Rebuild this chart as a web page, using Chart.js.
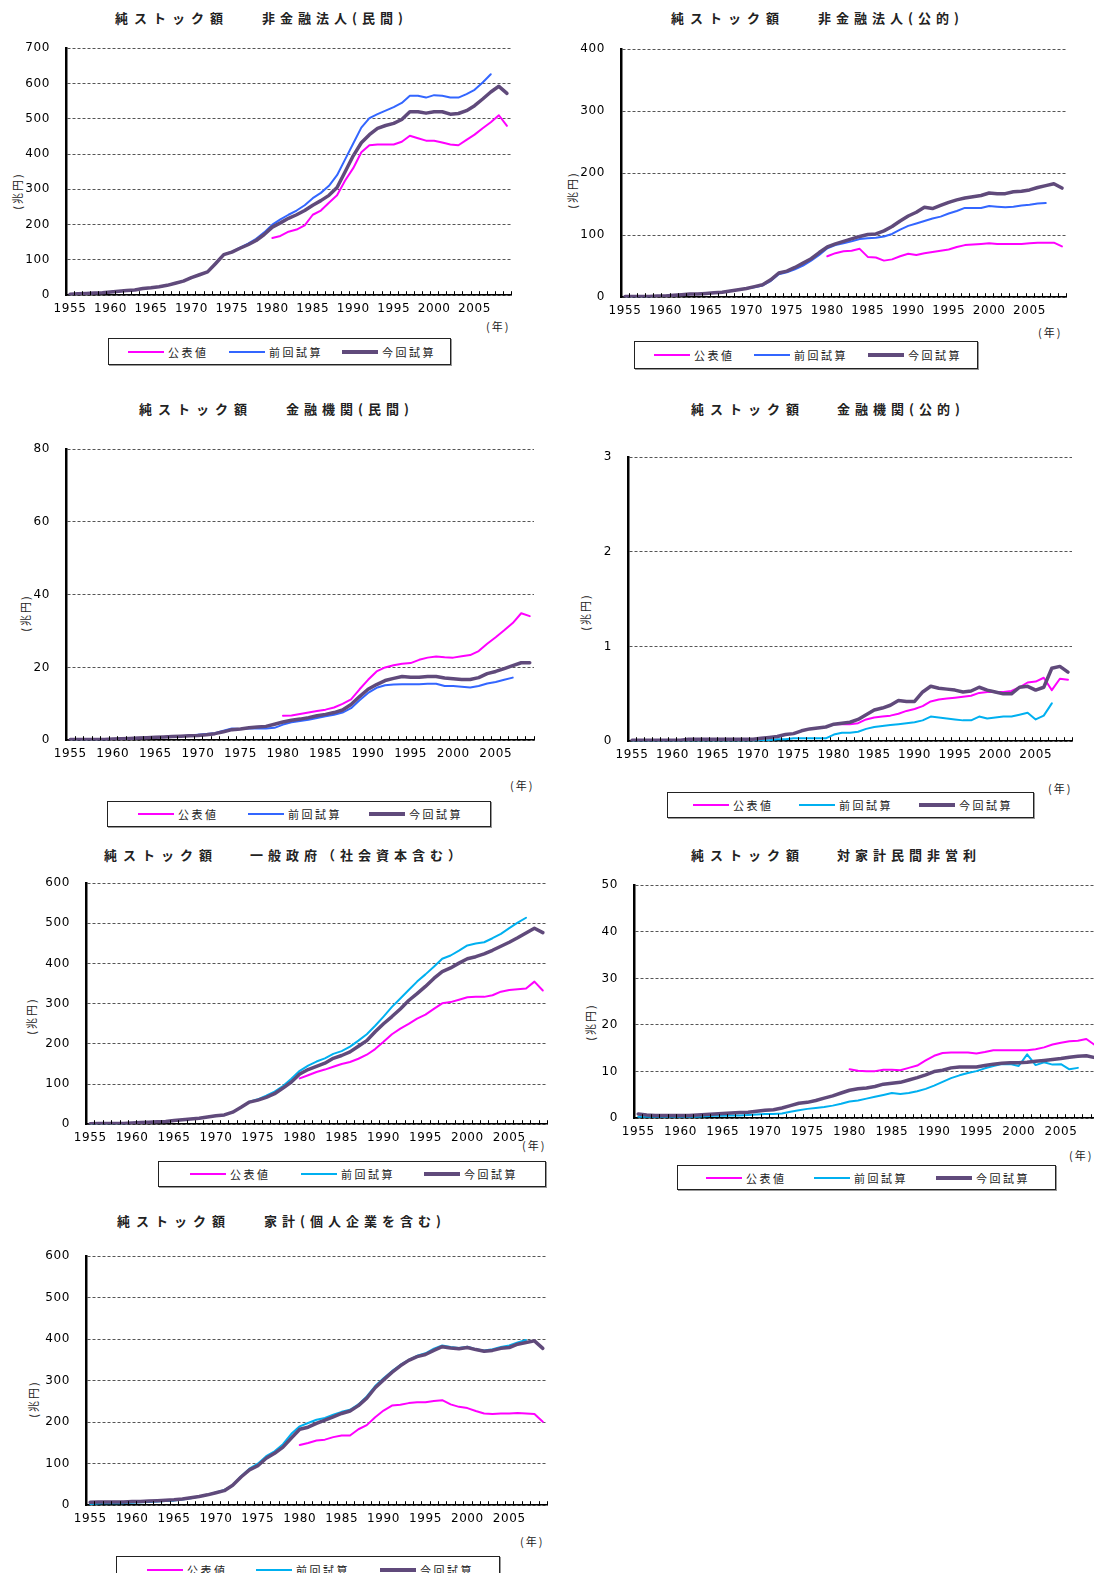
<!DOCTYPE html>
<html>
<head>
<meta charset="utf-8">
<script src="https://cdn.jsdelivr.net/npm/chart.js@4.4.1/dist/chart.umd.min.js"></script>
<style>
  body { margin: 0; width: 1094px; height: 1573px; position: relative; overflow: hidden; background: #fff;
         font-family: "Noto Sans CJK JP", sans-serif; color: #000; }
  canvas { position: absolute; }
  .title { position: absolute; font-size: 13px; font-weight: bold; letter-spacing: 5px; white-space: nowrap;
           color: #222; line-height: 16px; }
  .title.head { letter-spacing: 6px; }
  .unit { position: absolute; font-size: 11px; letter-spacing: 2px; white-space: nowrap; line-height: 12px;
          transform: translate(-50%, -50%) rotate(-90deg); color: #222; }
  .year { position: absolute; font-size: 11px; letter-spacing: 2px; white-space: nowrap; line-height: 12px; color: #222; }
  .legend { position: absolute; border: 1px solid #222; box-shadow: 1px 1px 0 #999; background: #fff; }
  .legend .item { position: absolute; top: 0; height: 100%; display: flex; align-items: center;
                  font-size: 11px; letter-spacing: 2.5px; white-space: nowrap; color: #222; }
  .legend .item i { display: inline-block; width: 36px; margin-right: 4px; }
</style>
</head>
<body>
<script>
// 年次カテゴリ
const years = [1955, 1956, 1957, 1958, 1959, 1960, 1961, 1962, 1963, 1964,
               1965, 1966, 1967, 1968, 1969, 1970, 1971, 1972, 1973, 1974,
               1975, 1976, 1977, 1978, 1979, 1980, 1981, 1982, 1983, 1984,
               1985, 1986, 1987, 1988, 1989, 1990, 1991, 1992, 1993, 1994,
               1995, 1996, 1997, 1998, 1999, 2000, 2001, 2002, 2003, 2004,
               2005, 2006, 2007, 2008, 2009];
const seriesNames = ['公表値', '前回試算', '今回試算'];
const titleHead = '純ストック額';

// 非金融法人(民間)
const nfPrivCurr = [3, 4, 5, 6, 7, 9, 11, 13, 15, 19, 21, 24, 28, 34, 40, 50, 58, 66, 90, 115,
  122, 133, 143, 155, 172, 193, 205, 218, 228, 240, 255, 268, 283, 305, 350, 395, 432, 455, 473, 481,
  487, 498, 520, 520, 516, 520, 520, 513, 515, 523, 537, 556, 576, 592, 572];
const nfPrivPrev = [3, 4, 5, 6, 7, 9, 11, 13, 15, 19, 21, 24, 28, 34, 40, 50, 58, 66, 90, 115,
  123, 135, 146, 160, 178, 200, 215, 228, 240, 255, 275, 290, 310, 340, 385, 430, 475, 502, 513, 523,
  533, 545, 565, 565, 560, 567, 565, 560, 560, 570, 582, 603, 626];
const nfPrivPub = [162, 168, 180, 186, 198, 228, 240, 262, 283, 325, 360, 405, 425, 427, 427, 427, 435, 452, 445, 438,
  438, 433, 427, 425, 440, 455, 473, 490, 510, 480];

// 非金融法人(公的)
const nfPubCurr = [1, 1, 1, 1, 2, 2, 3, 4, 5, 5, 6, 7, 8, 10, 12, 14, 17, 20, 28, 39,
  42, 48, 55, 62, 72, 81, 86, 90, 94, 98, 101, 102, 107, 114, 123, 131, 137, 145, 143, 148,
  153, 157, 160, 162, 164, 168, 167, 167, 170, 171, 173, 177, 180, 183, 176];
const nfPubPrev = [1, 1, 1, 1, 2, 2, 3, 4, 5, 5, 6, 7, 8, 10, 12, 14, 16, 19, 26, 37,
  40, 45, 51, 59, 68, 79, 84, 87, 90, 94, 95, 96, 98, 102, 109, 115, 119, 123, 127, 130,
  135, 139, 144, 144, 144, 147, 146, 145, 146, 148, 149, 151, 152];
const nfPubPub = [66, 71, 74, 75, 78, 65, 64, 59, 61, 66, 70, 68, 71, 73, 75, 77, 81, 84, 85, 86,
  87, 86, 86, 86, 86, 87, 88, 88, 88, 82];

// 金融機関(民間)
const finPrivCurr = [0.2, 0.2, 0.2, 0.2, 0.2, 0.3, 0.4, 0.5, 0.6, 0.7, 0.8, 0.9, 1.0, 1.1, 1.2, 1.3, 1.5, 1.8, 2.3, 2.9,
  3.1, 3.4, 3.6, 3.8, 4.4, 5.0, 5.5, 5.8, 6.2, 6.7, 7.1, 7.6, 8.3, 9.8, 12.0, 14.0, 15.3, 16.4, 17.0, 17.5,
  17.3, 17.3, 17.5, 17.5, 17.1, 16.9, 16.7, 16.7, 17.2, 18.3, 18.9, 19.7, 20.5, 21.3, 21.3];
const finPrivPrev = [0.2, 0.2, 0.2, 0.2, 0.2, 0.3, 0.4, 0.5, 0.6, 0.7, 0.8, 0.9, 1.0, 1.1, 1.3, 1.5, 1.7, 1.9, 2.6, 3.2,
  3.1, 3.2, 3.2, 3.2, 3.4, 4.3, 4.9, 5.3, 5.6, 6.1, 6.6, 7.0, 7.6, 8.8, 11.0, 13.0, 14.4, 15.1, 15.3, 15.4,
  15.4, 15.4, 15.5, 15.5, 14.9, 14.9, 14.7, 14.5, 14.9, 15.6, 16.0, 16.6, 17.2];
const finPrivPub = [6.7, 6.8, 7.2, 7.6, 8.0, 8.4, 9.0, 10.0, 11.2, 14.0, 16.6, 18.9, 20.0, 20.6, 21.0, 21.2, 22.1, 22.7, 23.0, 22.8,
  22.7, 23.1, 23.4, 24.5, 26.5, 28.3, 30.2, 32.2, 34.9, 34.1];

// 金融機関(公的)
const finPubCurr = [0.01, 0.01, 0.01, 0.01, 0.01, 0.01, 0.01, 0.02, 0.02, 0.02, 0.02, 0.02, 0.02, 0.02, 0.02, 0.02, 0.03, 0.04, 0.05, 0.07,
  0.08, 0.11, 0.13, 0.14, 0.15, 0.18, 0.19, 0.20, 0.23, 0.28, 0.33, 0.35, 0.38, 0.43, 0.42, 0.42, 0.52, 0.58, 0.56, 0.55,
  0.54, 0.52, 0.53, 0.57, 0.54, 0.52, 0.50, 0.50, 0.57, 0.58, 0.54, 0.57, 0.77, 0.79, 0.73];
const finPubPrev = [0, 0, 0, 0, 0, 0, 0, 0, 0, 0, 0, 0, 0, 0, 0, 0, 0.01, 0.01, 0.02, 0.02,
  0.03, 0.03, 0.03, 0.03, 0.03, 0.07, 0.09, 0.09, 0.10, 0.13, 0.15, 0.16, 0.17, 0.18, 0.19, 0.20, 0.22, 0.26, 0.25, 0.24,
  0.23, 0.22, 0.22, 0.26, 0.24, 0.25, 0.26, 0.26, 0.28, 0.30, 0.23, 0.27, 0.40];
const finPubPub = [0.18, 0.18, 0.18, 0.19, 0.23, 0.25, 0.26, 0.27, 0.29, 0.32, 0.34, 0.37, 0.42, 0.44, 0.45, 0.46, 0.47, 0.48, 0.51, 0.52,
  0.52, 0.52, 0.53, 0.57, 0.62, 0.63, 0.67, 0.54, 0.66, 0.65];

// 一般政府(社会資本含む)
const govCurr = [1, 2, 2, 2, 2, 3, 4, 5, 6, 7, 9, 11, 13, 15, 18, 21, 23, 30, 42, 55,
  60, 67, 76, 90, 105, 125, 136, 144, 152, 164, 171, 180, 194, 208, 230, 250, 268, 287, 308, 325,
  343, 363, 380, 389, 401, 412, 417, 424, 433, 443, 453, 464, 476, 488, 477];
const govPrev = [1, 2, 2, 2, 2, 3, 4, 5, 6, 7, 9, 11, 13, 15, 18, 21, 23, 30, 42, 56,
  62, 71, 81, 95, 113, 133, 146, 156, 164, 175, 182, 193, 208, 224, 245, 268, 292, 313, 334, 355,
  373, 392, 412, 420, 432, 445, 450, 453, 463, 474, 488, 502, 514];
const govPub = [114, 122, 130, 136, 143, 150, 155, 163, 173, 187, 205, 224, 238, 250, 263, 273, 287, 301, 304, 310,
  316, 317, 317, 321, 330, 334, 336, 338, 355, 333];

// 対家計民間非営利
const npCurr = [0.9, 0.7, 0.6, 0.6, 0.6, 0.6, 0.6, 0.7, 0.8, 0.9, 1.0, 1.1, 1.2, 1.3, 1.5, 1.7, 1.8, 2.2, 2.7, 3.2,
  3.4, 3.8, 4.3, 4.8, 5.4, 6.0, 6.3, 6.5, 6.8, 7.3, 7.5, 7.7, 8.2, 8.7, 9.3, 10.0, 10.3, 10.8, 11.0, 11.0,
  11.0, 11.3, 11.6, 11.8, 11.9, 11.9, 12.0, 12.2, 12.4, 12.6, 12.8, 13.1, 13.3, 13.4, 13.0];
const npPrev = [0.3, 0.3, 0.3, 0.3, 0.3, 0.3, 0.3, 0.3, 0.4, 0.5, 0.5, 0.6, 0.6, 0.7, 0.8, 0.9, 0.9, 1.0, 1.4, 1.7,
  2.0, 2.2, 2.4, 2.7, 3.1, 3.6, 3.8, 4.2, 4.6, 5.0, 5.4, 5.2, 5.4, 5.8, 6.3, 7.0, 7.8, 8.6, 9.2, 9.7,
  10.1, 10.7, 11.2, 11.6, 11.6, 11.2, 13.7, 11.4, 12.0, 11.5, 11.6, 10.5, 10.8];
const npPub = [10.5, 10.2, 10.1, 10.1, 10.4, 10.4, 10.3, 10.8, 11.3, 12.4, 13.4, 14.0, 14.1, 14.1, 14.1, 13.9, 14.2, 14.6, 14.6, 14.6,
  14.6, 14.6, 14.8, 15.2, 15.8, 16.2, 16.5, 16.6, 17.0, 15.7];

// 家計(個人企業を含む)
const hhCurr = [7, 8, 8, 8, 8, 9, 9, 10, 11, 12, 13, 15, 18, 21, 25, 30, 35, 48, 68, 85,
  95, 113, 125, 140, 162, 183, 188, 197, 205, 213, 221, 227, 240, 258, 283, 302, 320, 336, 349, 358,
  363, 373, 382, 379, 377, 380, 375, 371, 373, 378, 380, 388, 392, 396, 378];
const hhPrev = [3, 4, 5, 5, 5, 6, 7, 8, 9, 10, 11, 14, 17, 21, 25, 31, 37, 48, 70, 88,
  100, 118, 130, 147, 172, 190, 198, 206, 210, 218, 225, 230, 243, 262, 287, 306, 323, 338, 350, 360,
  366, 377, 385, 381, 379, 382, 376, 373, 376, 381, 385, 392, 398];
const hhPub = [145, 150, 156, 158, 164, 168, 168, 183, 193, 212, 228, 240, 242, 246, 248, 248, 251, 253, 243, 237,
  234, 227, 221, 220, 221, 221, 222, 221, 220, 201];

const PUB_START = 1980;
const COL_PUB = '#FF00FF';
const COL_CURR = '#604A7B';

// 公表値は1980年から始まるので前を null で埋める
function fromYear(start, arr) {
  const out = years.map(() => null);
  arr.forEach((v, i) => { out[years.indexOf(start) + i] = v; });
  return out;
}

// x 軸の目盛り線 (軸から上向き)
const innerTicks = {
  id: 'innerTicks',
  afterDatasetsDraw(chart) {
    const x = chart.scales.x;
    const ctx = chart.ctx;
    const step = x.getPixelForValue(1) - x.getPixelForValue(0);
    const y0 = chart.chartArea.bottom;
    ctx.save();
    ctx.strokeStyle = '#000';
    ctx.lineWidth = 1;
    ctx.beginPath();
    for (let i = 0; i <= years.length; i++) {
      const px = Math.round(x.getPixelForValue(0) - step / 2 + i * step) + 0.5;
      ctx.moveTo(px, y0);
      ctx.lineTo(px, y0 - 4);
    }
    ctx.stroke();
    ctx.restore();
  },
  beforeDraw(chart) {
    chart.ctx.letterSpacing = '0.6px';
  }
};

const panels = [
  { title: '非金融法人(民間)', t1: 115, t2: 262, ty: 10,
    axisX: 66, top: 48, right: 511, bottom: 295, max: 700, step: 100, prevColor: '#3366FF',
    curr: nfPrivCurr, prev: nfPrivPrev, pub: nfPrivPub,
    unit: [17, 191], year: [486, 320], legend: [108, 338, 341, 25, [19, 120, 233]] },
  { title: '非金融法人(公的)', t1: 671, t2: 818, ty: 10,
    axisX: 621, top: 49, right: 1066, bottom: 297, max: 400, step: 100, prevColor: '#3366FF',
    curr: nfPubCurr, prev: nfPubPrev, pub: nfPubPub,
    unit: [572, 190], year: [1038, 326], legend: [634, 341, 342, 26, [19, 119, 233]] },
  { title: '金融機関(民間)', t1: 139, t2: 286, ty: 401,
    axisX: 66, top: 449, right: 534, bottom: 740, max: 80, step: 20, prevColor: '#3366FF',
    curr: finPrivCurr, prev: finPrivPrev, pub: finPrivPub,
    unit: [25, 613], year: [510, 779], legend: [107, 801, 382, 24, [30, 140, 261]] },
  { title: '金融機関(公的)', t1: 691, t2: 837, ty: 401,
    axisX: 628, top: 457, right: 1072, bottom: 741, max: 3, step: 1, prevColor: '#00B0F0',
    curr: finPubCurr, prev: finPubPrev, pub: finPubPub,
    unit: [585, 612], year: [1048, 782], legend: [667, 792, 365, 24, [25, 131, 251]] },
  { title: '一般政府（社会資本含む）', t1: 104, t2: 250, ty: 847,
    axisX: 86, top: 883, right: 547, bottom: 1124, max: 600, step: 100, prevColor: '#00B0F0',
    curr: govCurr, prev: govPrev, pub: govPub,
    unit: [31, 1016], year: [522, 1139], legend: [158, 1161, 386, 24, [31, 142, 265]] },
  { title: '対家計民間非営利', t1: 691, t2: 837, ty: 847,
    axisX: 634, top: 885, right: 1099, bottom: 1118, max: 50, step: 10, prevColor: '#00B0F0',
    curr: npCurr, prev: npPrev, pub: npPub,
    unit: [590, 1022], year: [1069, 1149], legend: [677, 1165, 377, 23, [28, 136, 258]] },
  { title: '家計(個人企業を含む)', t1: 117, t2: 264, ty: 1213,
    axisX: 86, top: 1256, right: 547, bottom: 1505, max: 600, step: 100, prevColor: '#00B0F0',
    curr: hhCurr, prev: hhPrev, pub: hhPub,
    unit: [33, 1399], year: [520, 1535], legend: [116, 1556, 382, 26, [30, 139, 263]] }
];

function addDiv(cls, text, style) {
  const d = document.createElement('div');
  d.className = cls;
  if (text) d.textContent = text;
  Object.assign(d.style, style);
  document.body.appendChild(d);
  return d;
}

function drawPanel(p) {
  // タイトル
  addDiv('title head', titleHead, { left: p.t1 + 'px', top: p.ty + 'px' });
  addDiv('title', p.title, { left: p.t2 + 'px', top: p.ty + 'px' });
  addDiv('unit', '(兆円)', { left: p.unit[0] + 'px', top: p.unit[1] + 'px' });
  addDiv('year', '(年)', { left: p.year[0] + 'px', top: p.year[1] + 'px' });

  // 凡例
  const [lx, ly, lw, lh, offs] = p.legend;
  const lg = addDiv('legend', '', { left: lx + 'px', top: ly + 'px', width: lw + 'px', height: lh + 'px' });
  const colors = [COL_PUB, p.prevColor, COL_CURR];
  const widths = [2, 2, 4];
  seriesNames.forEach((name, i) => {
    const it = document.createElement('span');
    it.className = 'item';
    it.style.left = offs[i] + 'px';
    const sw = document.createElement('i');
    sw.style.background = colors[i];
    sw.style.height = widths[i] + 'px';
    it.appendChild(sw);
    it.appendChild(document.createTextNode(name));
    lg.appendChild(it);
  });

  // グラフ本体
  const padL = 60, padT = 10, padB = 30, padR = 3;
  const w = p.right - p.axisX + padL + padR;
  const h = p.bottom - p.top + padT + padB;
  const c = document.createElement('canvas');
  c.width = w; c.height = h;
  c.style.left = (p.axisX - padL) + 'px';
  c.style.top = (p.top - padT) + 'px';
  c.style.width = w + 'px';
  c.style.height = h + 'px';
  document.body.appendChild(c);

  const tickFont = { family: '"DejaVu Sans", sans-serif', size: 12 };
  const chart = new Chart(c, {
    type: 'line',
    data: {
      labels: years,
      datasets: [
        { label: seriesNames[0], data: fromYear(PUB_START, p.pub), borderColor: COL_PUB, borderWidth: 2, order: 2 },
        { label: seriesNames[1], data: p.prev, borderColor: p.prevColor, borderWidth: 2, order: 1 },
        { label: seriesNames[2], data: p.curr, borderColor: COL_CURR, borderWidth: 3.5, order: 0 }
      ]
    },
    options: {
      responsive: false,
      maintainAspectRatio: false,
      animation: false,
      devicePixelRatio: 1,
      elements: { point: { radius: 0 }, line: { tension: 0, borderJoinStyle: 'round', borderCapStyle: 'round' } },
      layout: { padding: { top: 0, right: padR, left: 0, bottom: 0 } },
      plugins: { legend: { display: false }, tooltip: { enabled: false }, title: { display: false } },
      scales: {
        x: {
          offset: true,
          grid: { display: true, drawOnChartArea: false, drawTicks: false },
          border: { display: true, color: '#000', width: 1.5 },
          ticks: {
            autoSkip: false, maxRotation: 0, minRotation: 0, padding: 6, color: '#000', font: tickFont,
            callback: (v, i) => (years[i] % 5 === 0 ? String(years[i]) : '')
          },
          afterFit: (s) => { s.height = padB; }
        },
        y: {
          min: 0, max: p.max,
          ticks: { stepSize: p.step, padding: 16, color: '#000', font: tickFont },
          grid: { color: '#555', lineWidth: 1, drawTicks: false },
          border: { display: true, color: '#000', width: 2.5, dash: [3, 2] },
          afterFit: (s) => { s.width = padL; }
        }
      }
    },
    plugins: [innerTicks]
  });

  // 描画領域が指定の位置・大きさになるようキャンバスを合わせる
  const a = chart.chartArea;
  const nw = w + ((p.right - p.axisX) - (a.right - a.left));
  const nh = h + ((p.bottom - p.top) - (a.bottom - a.top));
  chart.resize(nw, nh);
  const b = chart.chartArea;
  c.style.left = (p.axisX - b.left) + 'px';
  c.style.top = (p.top - b.top) + 'px';
}

panels.forEach(drawPanel);
</script>
</body>
</html>
